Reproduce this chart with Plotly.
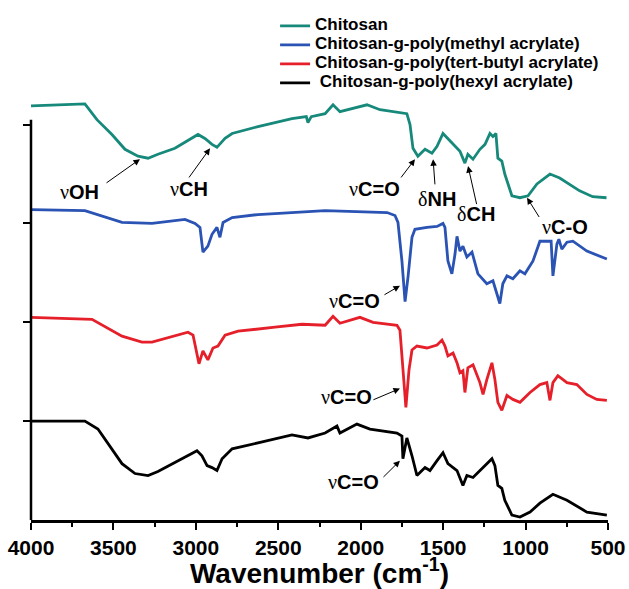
import plotly.graph_objects as go

# ---------------- data (wavenumber cm-1, stacked transmittance a.u.) ----------------
chitosan_wn = [4000, 3800, 3673, 3600, 3509, 3430, 3351, 3290, 3230, 3127, 3023, 2987, 2945, 2902,
               2872, 2823, 2780, 2623, 2417, 2330, 2320, 2300, 2216, 2168, 2126, 2047, 1962, 1883,
               1780, 1720, 1701, 1683, 1653, 1610, 1568, 1537, 1501, 1440, 1398, 1368, 1350, 1319,
               1277, 1246, 1216, 1198, 1180, 1168, 1144, 1126, 1083, 1034, 985, 931, 852, 793,
               672, 593, 509]
chitosan_t = [4.19, 4.20, 4.21, 4.05, 3.90, 3.75, 3.68, 3.66, 3.70, 3.76, 3.86, 3.90, 3.86, 3.80,
              3.77, 3.86, 3.91, 3.98, 4.06, 4.08, 4.02, 4.08, 4.11, 4.20, 4.13, 4.16, 4.20, 4.15,
              4.12, 4.11, 4.00, 3.76, 3.68, 3.75, 3.71, 3.78, 3.91, 3.80, 3.73, 3.61, 3.70, 3.65,
              3.75, 3.80, 3.91, 3.88, 3.91, 3.66, 3.63, 3.50, 3.28, 3.26, 3.28, 3.40, 3.50, 3.46,
              3.33, 3.27, 3.26]

pma_wn = [4000, 3673, 3448, 3266, 3066, 3005, 2975, 2957, 2927, 2902, 2872, 2854, 2835, 2780,
          2623, 2216, 1840, 1792, 1774, 1750, 1731, 1713, 1689, 1671, 1598, 1537, 1501, 1489,
          1471, 1447, 1428, 1416, 1398, 1380, 1356, 1325, 1289, 1235, 1198, 1174, 1156, 1138,
          1113, 1077, 1034, 1004, 955, 913, 871, 845, 834, 822, 810, 798, 780, 749, 713, 628,
          551, 507]
pma_t = [3.14, 3.13, 3.01, 3.00, 3.04, 3.00, 2.96, 2.71, 2.77, 2.89, 2.96, 2.86, 3.01, 3.06,
         3.09, 3.13, 3.11, 3.08, 3.01, 2.62, 2.21, 2.46, 2.86, 2.94, 2.96, 2.97, 3.00, 2.96,
         2.62, 2.49, 2.69, 2.87, 2.72, 2.77, 2.66, 2.71, 2.49, 2.39, 2.42, 2.29, 2.19, 2.39,
         2.47, 2.44, 2.52, 2.49, 2.62, 2.82, 2.82, 2.82, 2.47, 2.62, 2.79, 2.84, 2.74, 2.81, 2.82, 2.72,
         2.67, 2.64]

ptba_wn = [4000, 3630, 3448, 3327, 3266, 3048, 3017, 2993, 2981, 2957, 2927, 2896, 2866, 2823,
           2744, 2520, 2356, 2216, 2168, 2126, 2005, 1925, 1780, 1762, 1744, 1726, 1707, 1689,
           1659, 1598, 1537, 1507, 1489, 1471, 1440, 1416, 1398, 1380, 1368, 1350, 1319, 1277,
           1258, 1235, 1204, 1186, 1168, 1144, 1113, 1077, 1034, 973, 913, 871, 852, 834, 804,
           749, 689, 628, 568, 507]
ptba_t = [2.05, 2.03, 1.86, 1.80, 1.80, 1.90, 1.87, 1.69, 1.58, 1.71, 1.62, 1.74, 1.76, 1.87,
          1.91, 1.95, 1.98, 1.97, 2.06, 1.99, 2.05, 2.00, 1.97, 1.92, 1.52, 1.14, 1.52, 1.72,
          1.76, 1.74, 1.77, 1.82, 1.76, 1.66, 1.69, 1.59, 1.49, 1.51, 1.29, 1.54, 1.57, 1.39,
          1.27, 1.42, 1.59, 1.42, 1.19, 1.11, 1.26, 1.22, 1.19, 1.29, 1.37, 1.39, 1.21, 1.39, 1.46,
          1.39, 1.37, 1.27, 1.22, 1.21]

pha_wn = [4000, 3673, 3594, 3509, 3448, 3369, 3290, 3230, 3108, 2993, 2963, 2932, 2902, 2872,
          2841, 2780, 2623, 2417, 2320, 2216, 2144, 2126, 2023, 1944, 1780, 1750, 1744, 1720,
          1689, 1659, 1610, 1580, 1537, 1501, 1471, 1416, 1380, 1356, 1319, 1277, 1235, 1204,
          1186, 1168, 1144, 1126, 1083, 1034, 973, 913, 834, 749, 628, 507]
pha_t = [1.00, 1.00, 0.92, 0.72, 0.57, 0.47, 0.45, 0.49, 0.60, 0.70, 0.65, 0.55, 0.53, 0.50,
         0.62, 0.72, 0.78, 0.86, 0.83, 0.88, 0.95, 0.88, 0.97, 0.92, 0.88, 0.85, 0.62, 0.83,
         0.65, 0.45, 0.53, 0.50, 0.60, 0.68, 0.57, 0.50, 0.35, 0.45, 0.43, 0.50, 0.57, 0.62,
         0.55, 0.35, 0.32, 0.20, 0.05, 0.03, 0.08, 0.17, 0.26, 0.20, 0.08, 0.05]

series_names = ["Chitosan",
                "Chitosan-g-poly(methyl acrylate)",
                "Chitosan-g-poly(tert-butyl acrylate)",
                "\u00a0Chitosan-g-poly(hexyl acrylate)"]
series_x = [chitosan_wn, pma_wn, ptba_wn, pha_wn]
series_y = [chitosan_t, pma_t, ptba_t, pha_t]
series_colors = ["#17897b", "#2a53b4", "#e5202a", "#000000"]

x_ticks = [4000, 3500, 3000, 2500, 2000, 1500, 1000, 500]
y_ticks = [1, 2, 3, 4]

# band labels: (greek prefix, bold part, text x, text y, arrow tail x, y, arrow head x, y)
labels = [
    ("ν", "OH", 3703, 3.32, 3551, 3.40, 3339, 3.65),
    ("ν", "CH", 3042, 3.35, 3048, 3.45, 2914, 3.76),
    ("ν", "C=O", 1919, 3.35, 1762, 3.45, 1671, 3.65),
    ("δ", "NH", 1537, 3.25, 1549, 3.38, 1561, 3.65),
    ("δ", "CH", 1301, 3.10, 1295, 3.18, 1349, 3.58),
    ("ν", "C-O", 761, 2.96, 912, 3.05, 991, 3.26),
    ("ν", "C=O", 2035, 2.22, 1865, 2.27, 1762, 2.37),
    ("ν", "C=O", 2085, 1.24, 1932, 1.21, 1762, 1.33),
    ("ν", "C=O", 2041, 0.38, 1871, 0.42, 1762, 0.60),
]

# ---------------- figure ----------------
fig = go.Figure()
for name, xs, ys, col in zip(series_names, series_x, series_y, series_colors):
    fig.add_trace(go.Scatter(
        x=xs, y=ys, mode="lines",
        name=f"<span style='font-size:17px'>{name}</span>",
        line=dict(color=col, width=2.8)))

annotations = []
for g, b, tx, ty, ax_, ay_, hx, hy in labels:
    annotations.append(dict(
        x=tx, y=ty, xref="x", yref="y", showarrow=False,
        text=f"<span style='font-family:\"Liberation Serif\";font-weight:normal'>{g}</span>{b}",
        font=dict(family="Liberation Sans", size=20, color="black", weight="bold"),
        xanchor="center", yanchor="middle"))
    annotations.append(dict(
        x=hx, y=hy, ax=ax_, ay=ay_, xref="x", yref="y", axref="x", ayref="y",
        text="", showarrow=True, arrowhead=2, arrowsize=1.3, arrowwidth=1,
        arrowcolor="black", standoff=0, startstandoff=0))

fig.update_layout(
    width=629, height=589,
    margin=dict(l=31, r=21, t=90, b=69),
    paper_bgcolor="white", plot_bgcolor="white",
    showlegend=True,
    legend=dict(x=0.423, y=1.2023, xanchor="left", yanchor="top",
                bgcolor="rgba(0,0,0,0)", borderwidth=0, tracegroupgap=0,
                font=dict(family="Liberation Sans", size=11, color="black", weight="bold")),
    annotations=annotations,
    shapes=[dict(type="line", xref="paper", yref="y", x0=0, x1=0, y0=0, y1=4.05,
                 line=dict(color="black", width=2.5))],
)

fig.update_xaxes(
    range=[4000, 500], tickvals=x_ticks, ticktext=[str(v) for v in x_ticks],
    showgrid=False, zeroline=False, showline=True, linecolor="black", linewidth=2.5,
    ticks="outside", ticklen=7, tickwidth=2, tickcolor="black",
    minor=dict(dtick=250, tick0=500, ticks="outside", ticklen=4, tickwidth=2, tickcolor="black",
               showgrid=False),
    tickfont=dict(family="Liberation Sans", size=21, color="black", weight="bold"),
    title=dict(text="Wavenumber (cm<sup>-1</sup>)", standoff=7,
               font=dict(family="Liberation Sans", size=28, color="black", weight="bold")),
    automargin=False,
)
fig.update_yaxes(
    range=[0, 4.279], tickvals=y_ticks, showticklabels=False,
    showgrid=False, zeroline=False, showline=False,
    ticks="outside", ticklen=7, tickwidth=2, tickcolor="black",
    automargin=False,
)

fig.write_html("out.html",
               config={"displayModeBar": False},
               post_script="document.body.style.margin='0px';"
                           "document.body.style.overflow='hidden';")
